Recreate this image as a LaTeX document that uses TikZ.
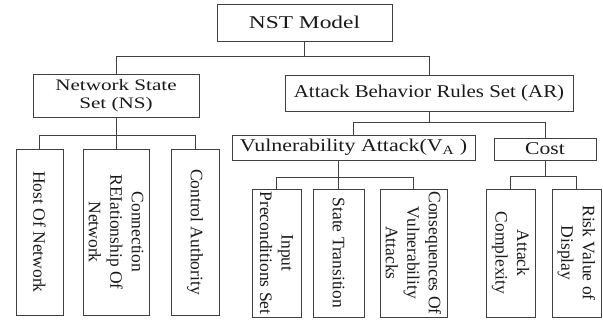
\documentclass[tikz,border=0pt]{standalone}
\usepackage{fontspec}
\setmainfont{Liberation Serif}
\usepackage{graphicx}
\usepackage{tikz}
\usetikzlibrary{positioning}

% stretch a line of text sideways
\newcommand{\wide}[2][1.2]{\scalebox{#1}[1]{#2}}

\begin{document}
\begin{tikzpicture}[
        x=1pt, y=-1pt,
        % Block styles
        box/.style={
            rectangle,
            draw=black!75,
            line width=0.8pt,
            inner sep=1pt,
            align=center,
            text=black!90,
            font=\fontsize{18}{13}\selectfont
        },
        leaf/.style={
            rectangle,
            draw=black!75,
            line width=0.8pt,
            minimum width=#1,
            inner sep=0pt
        },
        vtext/.style={
            rotate=-90,
            align=center,
            inner sep=0pt,
            text=black!90,
            font=\fontsize{17.5}{21.5}\selectfont
        },
        link/.style={draw=black!75, line width=0.8pt}
    ]
    \useasboundingbox (0,0) rectangle (603,323);

    % Top
    \node[box, minimum width=175pt, minimum height=37pt] (nst) at (304.5, 22.5) {\wide[1.3]{NST Model}};

    % Second level
    \node[box, minimum width=166pt, minimum height=43pt, font=\fontsize{16}{17.5}\selectfont] (ns) at (116, 95.5) {\wide[1.32]{Network State}\\\wide[1.32]{Set (NS)}};
    \node[box, minimum width=288pt, minimum height=36pt] (ar) at (429, 93) {\wide[1.16]{Attack Behavior Rules Set (AR)}};

    % Third level
    \node[box, minimum width=243pt, minimum height=25pt, inner ysep=0pt] (vuln) at (353.5, 147.5) {\wide[1.22]{Vulnerability Attack(V\textsubscript{A} )}};
    \node[box, minimum width=102pt, minimum height=22pt, inner ysep=0pt] (cost) at (545, 149) {\wide{Cost}};

    % Leaves of NS
    \node[leaf=47pt, minimum height=166pt] (host) at (39.5, 232) {};
    \node[vtext] at (host.center) {Host Of Network};
    \node[leaf=66pt, minimum height=166pt] (conn) at (116, 232) {};
    \node[vtext] at (conn.center) {Connection\\REIationship Of\\Network};
    \node[leaf=48pt, minimum height=166pt] (ctrl) at (195, 232) {};
    \node[vtext] at (ctrl.center) {Control Authority};

    % Leaves of V_A
    \node[leaf=49pt, minimum height=128pt] (input) at (276.5, 253) {};
    \node[vtext] at (input.center) {Input\\Preconditions Set};
    \node[leaf=51pt, minimum height=128pt] (state) at (338.5, 253) {};
    \node[vtext] at (state.center) {State Transition};
    \node[leaf=67pt, minimum height=128pt] (conseq) at (413.5, 253) {};
    \node[vtext] at (conseq.center) {Consequences Of\\Vulnerability\\Attacks};

    % Leaves of Cost
    \node[leaf=49pt, minimum height=128pt] (acx) at (510.5, 253) {};
    \node[vtext] at (acx.center) {Attack\\Complexity};
    \node[leaf=49pt, minimum height=128pt] (risk) at (576.5, 253) {};
    \node[vtext] at (risk.center) {Risk Value of\\Display};

    % Connections
    \draw[link] (nst.south) -- ++(0,15) -| (ns.north);
    \draw[link] (nst.south) -- ++(0,15) -| (ar.north);

    \draw[link] (ns.south) -- (conn.north);
    \draw[link] (host.north) -- ++(0,-13) -| (ctrl.north);

    \draw[link] (ar.south) -- ++(0,11) -| (vuln.north);
    \draw[link] (ar.south) -- ++(0,11) -| (cost.north);

    \draw[link] (vuln.south -| state.north) -- (state.north);
    \draw[link] (input.north) -- ++(0,-11) -| (conseq.north);

    \draw[link] (cost.south) -- ++(0,17);
    \draw[link] (acx.north) -- ++(0,-12) -| (risk.north);

\end{tikzpicture}
\end{document}
